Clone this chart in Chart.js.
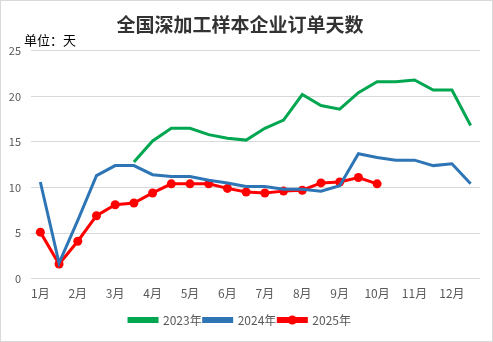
<!DOCTYPE html>
<html>
<head>
<meta charset="utf-8">
<script src="https://cdn.jsdelivr.net/npm/chart.js@4/dist/chart.umd.min.js"></script>
<style>
  html, body { margin: 0; padding: 0; background: #fff; }
  canvas { display: block; }
</style>
</head>
<body>
<canvas id="orderDays" width="493" height="342"></canvas>
<script>
// 月份刻度，每月上下半月各一个点
const months = ['1月', '2月', '3月', '4月', '5月', '6月', '7月', '8月', '9月', '10月', '11月', '12月'];
const periods = months.flatMap(m => [m, '']);

// 订单天数（天）
const days2023 = [null, null, null, null, null, 12.8, 15.1, 16.5, 16.5, 15.8, 15.4, 15.2,
                  16.5, 17.4, 20.2, 19.0, 18.6, 20.4, 21.6, 21.6, 21.8, 20.7, 20.7, 16.8];
const days2024 = [10.6, 1.7, 6.4, 11.3, 12.4, 12.4, 11.4, 11.2, 11.2, 10.8, 10.5, 10.1,
                  10.1, 9.8, 9.8, 9.6, 10.2, 13.7, 13.3, 13.0, 13.0, 12.4, 12.6, 10.4];
const days2025 = [5.1, 1.6, 4.1, 6.9, 8.1, 8.3, 9.4, 10.4, 10.4, 10.4, 9.9, 9.5,
                  9.4, 9.6, 9.7, 10.5, 10.6, 11.1, 10.4];

const yTicks = { min: 0, max: 25, step: 5 };

const textColor = '#595959';
const gridColor = '#d9d9d9';

// 外框 + 左上角单位 + 图例里红线的圆点
const extras = {
  id: 'extras',
  afterDraw(chart) {
    const ctx = chart.ctx;
    ctx.save();
    ctx.strokeStyle = gridColor;
    ctx.lineWidth = 1;
    ctx.strokeRect(0.5, 0.5, chart.width - 1, chart.height - 1);

    ctx.fillStyle = '#000';
    ctx.font = '13px "Noto Sans CJK SC"';
    ctx.textBaseline = 'middle';
    ctx.textAlign = 'left';
    ctx.fillText('单位：天', 24, 40);

    const boxes = chart.legend.legendHitBoxes;
    if (boxes && boxes[2]) {
      const b = boxes[2];
      ctx.fillStyle = '#ff0000';
      ctx.beginPath();
      ctx.arc(b.left + 14, b.top + b.height / 2, 4.5, 0, Math.PI * 2);
      ctx.fill();
    }
    ctx.restore();
  }
};

new Chart(document.getElementById('orderDays'), {
  type: 'line',
  data: {
    labels: periods,
    datasets: [
      {
        label: '2023年',
        data: days2023,
        borderColor: '#00a650',
        backgroundColor: '#00a650',
        borderWidth: 3,
        pointRadius: 0,
        tension: 0
      },
      {
        label: '2024年',
        data: days2024,
        borderColor: '#2e75b6',
        backgroundColor: '#2e75b6',
        borderWidth: 3,
        pointRadius: 0,
        tension: 0
      },
      {
        label: '2025年',
        data: days2025,
        borderColor: '#ff0000',
        backgroundColor: '#ff0000',
        borderWidth: 3,
        pointRadius: 4.5,
        pointBackgroundColor: '#ff0000',
        pointBorderWidth: 0,
        tension: 0
      }
    ]
  },
  options: {
    responsive: false,
    animation: false,
    layout: { padding: { left: 0, right: 13, top: 0, bottom: 6 } },
    scales: {
      x: {
        offset: true,
        afterFit(scale) { scale.height += 3; },
        grid: { display: false, drawTicks: false },
        border: { display: false },
        ticks: {
          autoSkip: false,
          maxRotation: 0,
          padding: 8,
          color: textColor,
          font: { family: '"Noto Sans CJK SC"', size: 12 }
        }
      },
      y: {
        min: yTicks.min,
        max: yTicks.max,
        afterFit(scale) { scale.width = 31; },
        grid: { color: gridColor, drawTicks: false },
        border: { display: false },
        ticks: {
          stepSize: yTicks.step,
          padding: 10,
          color: textColor,
          font: { family: '"Noto Sans CJK SC"', size: 11 }
        }
      }
    },
    plugins: {
      title: {
        display: true,
        text: '全国深加工样本企业订单天数',
        color: '#333',
        font: { family: '"Noto Sans CJK SC"', size: 19, weight: 'bold' },
        padding: { top: 13, bottom: 15 }
      },
      legend: {
        position: 'bottom',
        labels: {
          boxWidth: 28,
          boxHeight: 3,
          padding: 2,
          color: textColor,
          font: { family: '"Noto Sans CJK SC"', size: 12 }
        }
      },
      tooltip: { enabled: false }
    }
  },
  plugins: [extras]
});
</script>
</body>
</html>
